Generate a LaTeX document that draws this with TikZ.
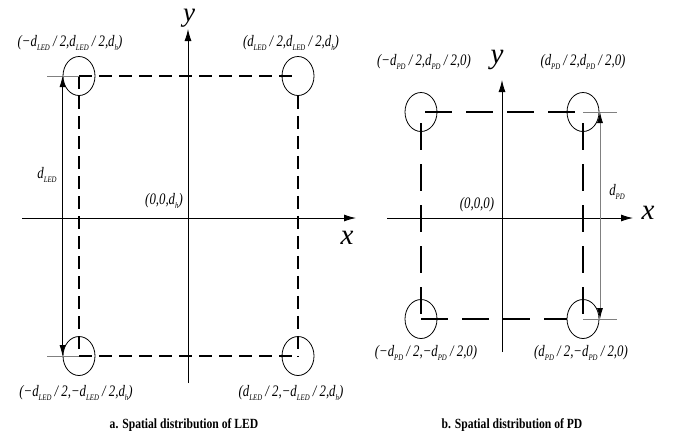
\documentclass[tikz,border=0pt]{standalone}
\usepackage{fontspec}
\usepackage{graphicx}
\setmainfont{Liberation Serif}
\usetikzlibrary{arrows.meta,shapes.geometric}
\newcommand\sbs[1]{\raisebox{-0.22em}{\fontsize{8.5}{9}\selectfont #1}}
\newcommand\cz[1]{\scalebox{0.8}[1]{#1}}
\newcommand\cc[1]{\scalebox{0.83}[1]{#1}}
\begin{document}
\begin{tikzpicture}[x=1pt,y=-1pt,
  axisline/.style={line width=0.9pt,-{Latex[length=12pt,width=7pt]}},
  dashA/.style={line width=1.5pt,dash pattern=on 13pt off 7pt},
  dashB/.style={line width=1.5pt,dash pattern=on 27pt off 14pt},
  stub/.style={line width=0.8pt,gray},
  ring/.style={ellipse,draw,line width=0.8pt,minimum width=32pt,minimum height=39pt,inner sep=0pt},
  dimA/.style={line width=0.8pt,{Latex[length=11pt,width=6pt,color=black]}-{Latex[length=11pt,width=6pt,color=black]}},
  lbl/.style={font=\fontsize{16}{18}\selectfont\itshape,inner sep=0pt},
  axlbl/.style={font=\fontsize{29}{29}\selectfont\itshape,inner sep=0pt},
  axlbltop/.style={font=\fontsize{27}{27}\selectfont\itshape,inner sep=0pt},
  captext/.style={font=\fontsize{14}{16}\selectfont\bfseries,inner sep=0pt}]
\fill[white] (0,0) rectangle (676,437);
\useasboundingbox (0,0) rectangle (676,437);

% ---------------- panel a ----------------
\node[ring] (atl) at (79,76) {};
\node[ring] (atr) at (298,76) {};
\node[ring] (abl) at (79,356) {};
\node[ring] (abr) at (298,356) {};
\coordinate (axs) at (22,218);
\coordinate (axe) at (356,218);
\coordinate (ays) at (188,383);
\coordinate (aye) at (188,29);
\coordinate (asa) at (47,76);
\coordinate (asb) at (47,356);
\coordinate (ada) at (62.5,76);
\coordinate (adb) at (62.5,356);

\draw[axisline] (axs) -- (axe);
\draw[axisline] (ays) -- (aye);
\draw[dashA] (atl.center) -- (atr.center);
\draw[dashA] (atl.center) -- (abl.center);
\draw[dashA] (atr.south) -- (abr.center);
\draw[dashA] (abl.center) -- (abr.center);
\draw[stub] (asa) -- (atl.center);
\draw[stub] (asb) -- (abl.center);
\draw[dimA] (ada) -- (adb);

\node[axlbltop] (ay) at (189,18) {y};
\node[axlbl] (ax) at (347,238) {x};
\node[lbl] (la1) at (70,43) {\cz{(−d\sbs{LED} / 2,d\sbs{LED} / 2,d\sbs{h})}};
\node[lbl] (la2) at (291,43) {\cz{(d\sbs{LED} / 2,d\sbs{LED} / 2,d\sbs{h})}};
\node[lbl] (la3) at (76,393) {\cz{(−d\sbs{LED} / 2,−d\sbs{LED} / 2,d\sbs{h})}};
\node[lbl] (la4) at (291,393) {\cz{(d\sbs{LED} / 2,−d\sbs{LED} / 2,d\sbs{h})}};
\node[lbl] (la0) at (164,201) {\cz{(0,0,d\sbs{h})}};
\node[lbl] (lad) at (47,175) {\cz{d\sbs{LED}}};
\node[captext] (capa) at (184,425) {\cc{a. Spatial distribution of LED}};

% ---------------- panel b ----------------
\node[ring] (btl) at (421,112) {};
\node[ring] (btr) at (583,112) {};
\node[ring] (bbl) at (421,319) {};
\node[ring] (bbr) at (583,319) {};
\coordinate (bxs) at (387,218);
\coordinate (bxe) at (633,218);
\coordinate (bys) at (502,352);
\coordinate (bye) at (502,80);
\coordinate (bta) at (425,112);
\coordinate (btb) at (577,112);
\coordinate (bla) at (421,123);
\coordinate (bra) at (583,123);
\coordinate (brb) at (583,315);
\coordinate (bsa) at (617,112);
\coordinate (bsb) at (617,319);
\coordinate (bda) at (600,112);
\coordinate (bdb) at (600,319);

\draw[axisline] (bxs) -- (bxe);
\draw[axisline] (bys) -- (bye);
\draw[dashB] (bta) -- (btb);
\draw[dashB] (bla) -- (bbl.center);
\draw[dashB] (bra) -- (brb);
\draw[dashB] (bbl.center) -- (bbr.west);
\draw[stub] (btr.center) -- (bsa);
\draw[stub] (bbr.center) -- (bsb);
\draw[dimA,draw=gray] (bda) -- (bdb);

\node[axlbl] (by) at (497,60) {y};
\node[axlbl] (bx) at (648,213) {x};
\node[lbl] (lb1) at (424,62) {\cz{(−d\sbs{PD} / 2,d\sbs{PD} / 2,0)}};
\node[lbl] (lb2) at (583,62) {\cz{(d\sbs{PD} / 2,d\sbs{PD} / 2,0)}};
\node[lbl] (lb3) at (426,353) {\cz{(−d\sbs{PD} / 2,−d\sbs{PD} / 2,0)}};
\node[lbl] (lb4) at (581,353) {\cz{(d\sbs{PD} / 2,−d\sbs{PD} / 2,0)}};
\node[lbl] (lb0) at (477,205) {\cz{(0,0,0)}};
\node[lbl] (lbd) at (617,192) {\cz{d\sbs{PD}}};
\node[captext] (capb) at (512,425) {\cc{b. Spatial distribution of PD}};
\end{tikzpicture}
\end{document}
